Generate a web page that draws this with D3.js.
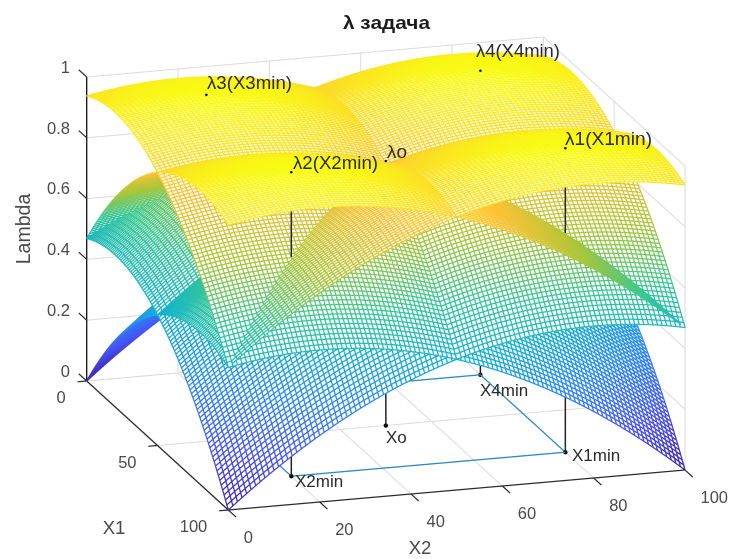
<!DOCTYPE html>
<html><head><meta charset="utf-8">
<script src="https://cdn.jsdelivr.net/npm/d3@7"></script>
<style>
html,body{margin:0;padding:0;background:#fff}
#wrap{position:relative;width:731px;height:559px}
canvas{position:absolute;left:0;top:0;width:731px;height:559px;filter:blur(0.4px)}
svg{position:absolute;left:0;top:0;font-family:"Liberation Sans",Arial,sans-serif}
#labels{filter:blur(0.35px)}
</style></head><body><div id="wrap"><canvas id="cv" width="731" height="559"></canvas><svg id="c" width="731" height="559"></svg></div>
<script>
// Edge profile of one surface, read along a mesh edge (one value per grid line, X = 0,1,...,100)
const profileRise=[0,.0124,.0247,.0368,.0488,.0605,.0722,.0837,.0950,.1062,.1172,.1280,.1388,.1493,.1597,.1699,.1800,.1899,.1997,.2093,.2188,.2280,.2372,.2462,.2550,.2637,.2722,.2805,.2888,.2968,.3047,.3124,.3200,.3274,.3347,.3418,.3488,.3556,.3622,.3687,.3750,.3812,.3872,.3930,.3988,.4043,.4097,.4149,.4200,.4249,.4297,.4343,.4388,.4431,.4472,.4512,.4550,.4587,.4622,.4655,.4688,.4718,.4747,.4774,.4800,.4824,.4847,.4868,.4888,.4905,.4922,.4937,.4950,.4962,.4972,.4980,.4988,.4993,.4997,.4999,.5000,.4999,.4997,.4993,.4988,.4980,.4972,.4962,.4950,.4937,.4922,.4905,.4888,.4868,.4847,.4824,.4800,.4774,.4747,.4718,.4688];
const profileFall=profileRise.slice().reverse();
const surfaceProfiles=[[profileRise,profileRise],[profileRise,profileFall],[profileFall,profileFall],[profileFall,profileRise]];
const pointX1=[80,80,20,20,50];
const pointX2=[80,20,20,80,50];
const pointZ=[1,1,1,1,.87];
const topLabels=["λ1(X1min)","λ2(X2min)","λ3(X3min)","λ4(X4min)","λo"];
const floorLabels=["X1min","X2min",null,"X4min","Xo"];
const rectX1=[80,80,20,20,80];
const rectX2=[20,80,80,20,20];
const x1Ticks=[0,50,100];
const x2Ticks=[0,20,40,60,80,100];
const zTicks=[0,.2,.4,.6,.8,1];
const parula=["#3e26a8","#4852f4","#2d87f7","#12b1d6","#37c897","#abc739","#fec338","#f9fb14"];

const SS=4;
const off=document.createElement("canvas");off.width=731*SS;off.height=559*SS;
const ctx=off.getContext("2d");
ctx.fillStyle="#fff";ctx.fillRect(0,0,off.width,off.height);ctx.scale(SS,SS);ctx.lineJoin="round";

const sx1x=d3.scaleLinear([0,100],[0,141.6]),sx1y=d3.scaleLinear([0,100],[0,129]);
const sx2x=d3.scaleLinear([0,100],[0,456.7]),sx2y=d3.scaleLinear([0,100],[0,-40]);
const szy=d3.scaleLinear([0,1],[0,-304]);
const P=(a,b,z)=>[86.7+sx1x(a)+sx2x(b),381+sx1y(a)+sx2y(b)+szy(z)];
const depth=(a,b,z)=>4.387*a-1.356*b+89.5*z;
const color=d3.scaleLinear(d3.range(8).map(i=>i/7),parula).clamp(true);
const draw=d3.line().context(ctx);
const seg=(a,b,col,w)=>{ctx.beginPath();draw([a,b]);ctx.strokeStyle=col;ctx.lineWidth=w;ctx.stroke();};

// walls and floor grid
const gc="#dcdce0";
x1Ticks.forEach(t=>{seg(P(t,0,0),P(t,100,0),gc,1);seg(P(t,100,0),P(t,100,1),gc,1);});
x2Ticks.forEach(t=>{seg(P(0,t,0),P(100,t,0),gc,1);seg(P(0,t,0),P(0,t,1),gc,1);});
zTicks.forEach(t=>{seg(P(0,0,t),P(0,100,t),gc,1);seg(P(0,100,t),P(100,100,t),gc,1);});

// axes
const ac="#2c2c2c";
seg(P(0,0,0),P(0,0,1),"#111",1.3);
seg(P(0,0,0),P(100,0,0),ac,1.3);
seg(P(100,0,0),P(100,100,0),ac,1.3);
zTicks.forEach(t=>seg(P(0,0,t),P(-5.6,0,t),ac,1.2));
x1Ticks.forEach(t=>seg(P(t,0,0),P(t,-2,0),ac,1.2));
x2Ticks.forEach(t=>seg(P(100,t,0),P(105.5,t,0),ac,1.2));

// depth-sorted scene
const items=[];
surfaceProfiles.forEach(([pa,pb])=>{
  for(let i=0;i<pa.length-1;i++)for(let j=0;j<pb.length-1;j++){
    const c=[[i,j],[i+1,j],[i+1,j+1],[i,j+1]].map(([u,v])=>[u,v,pa[u]+pb[v]]);
    const m=d3.mean(c,q=>q[2]);
    items.push({d:depth(i+.5,j+.5,m),pts:c.map(q=>P(q[0],q[1],q[2])),closed:true,stroke:color(m),w:1.25});
  }
});
pointX1.forEach((a,k)=>{
  const b=pointX2[k],n=60;
  for(let s=0;s<n;s++){
    const z0=pointZ[k]*s/n,z1=pointZ[k]*(s+1)/n;
    items.push({d:depth(a,b,(z0+z1)/2)+.01,pts:[P(a,b,z0),P(a,b,z1)],stroke:"#222",w:1.5});
  }
  items.push({d:depth(a,b,0)+.02,dot:P(a,b,0)});
});
for(let k=0;k<rectX1.length-1;k++){
  const n=40;
  for(let s=0;s<n;s++){
    const t0=s/n,t1=(s+1)/n;
    const a0=rectX1[k]+(rectX1[k+1]-rectX1[k])*t0,a1=rectX1[k]+(rectX1[k+1]-rectX1[k])*t1;
    const b0=rectX2[k]+(rectX2[k+1]-rectX2[k])*t0,b1=rectX2[k]+(rectX2[k+1]-rectX2[k])*t1;
    items.push({d:depth((a0+a1)/2,(b0+b1)/2,0)+.01,pts:[P(a0,b0,0),P(a1,b1,0)],stroke:"#2b8ac0",w:1.3});
  }
}
items.sort((p,q)=>p.d-q.d);
items.forEach(it=>{
  ctx.beginPath();
  if(it.dot){ctx.arc(it.dot[0],it.dot[1],2.2,0,7);ctx.fillStyle="#000";ctx.fill();return;}
  draw(it.pts);
  if(it.closed){ctx.closePath();ctx.fillStyle="#fff";ctx.fill();}
  ctx.strokeStyle=it.stroke;ctx.lineWidth=it.w;ctx.stroke();
});
pointX1.forEach((a,k)=>{
  const p=P(a,pointX2[k],pointZ[k]);
  ctx.beginPath();ctx.arc(p[0],p[1],1.3,0,7);ctx.fillStyle="#111";ctx.fill();
});
// reduce the 4x drawing to the page size
const on=document.getElementById("cv").getContext("2d");
const half=document.createElement("canvas");half.width=731*2;half.height=559*2;
const hc=half.getContext("2d");hc.imageSmoothingQuality="high";hc.drawImage(off,0,0,half.width,half.height);
on.imageSmoothingQuality="high";on.drawImage(half,0,0,731,559);

// text
const svg=d3.select("#c");
const L=svg.append("g").attr("id","labels");
const T=(x,y,s,o={})=>{const t=L.append("text").attr("x",x).attr("y",y).attr("dy",".35em").text(s)
  .attr("text-anchor",o.a||"middle").attr("font-size",o.f||16.5).attr("fill",o.c||"#4a4a4a").attr("font-weight",o.w||null);
  if(o.len)t.attr("textLength",o.len).attr("lengthAdjust","spacingAndGlyphs");return t;};
zTicks.forEach(t=>T(70,P(0,0,t)[1]-10,d3.format("")(t),{a:"end"}));
x1Ticks.forEach(t=>{const p=P(t,0,0);T(p[0]-21,p[1]+16.5,String(t),{a:"end"});});
x2Ticks.forEach(t=>{const p=P(100,t,0);T(p[0]+15.5,p[1]+27,String(t),{a:"start"});});
T(114,528,"X1",{f:18.5});
T(420,548,"X2",{f:18.5});
T(343,22,"λ задача",{a:"start",f:19,w:"bold",c:"#1c1c1c",len:87});
L.append("text").attr("transform","translate(23,229) rotate(-90)").attr("text-anchor","middle").attr("dy",".35em")
  .attr("font-size",19.5).attr("fill","#4a4a4a").text("Lambda");
const topPos=[[565,139],[293,163],[207,83],[476,51],[387,152]];
const topLen=[87,85,85,84,20];
topLabels.forEach((s,i)=>T(topPos[i][0],topPos[i][1],s,{a:"start",f:17.5,c:"#2a2a2a",len:topLen[i]}));
const floorPos=[[572,455],[295,481],null,[480,390],[386,437]];
floorLabels.forEach((s,i)=>{if(s)T(floorPos[i][0],floorPos[i][1],s,{a:"start",f:17,c:"#2a2a2a"});});
</script></body></html>
